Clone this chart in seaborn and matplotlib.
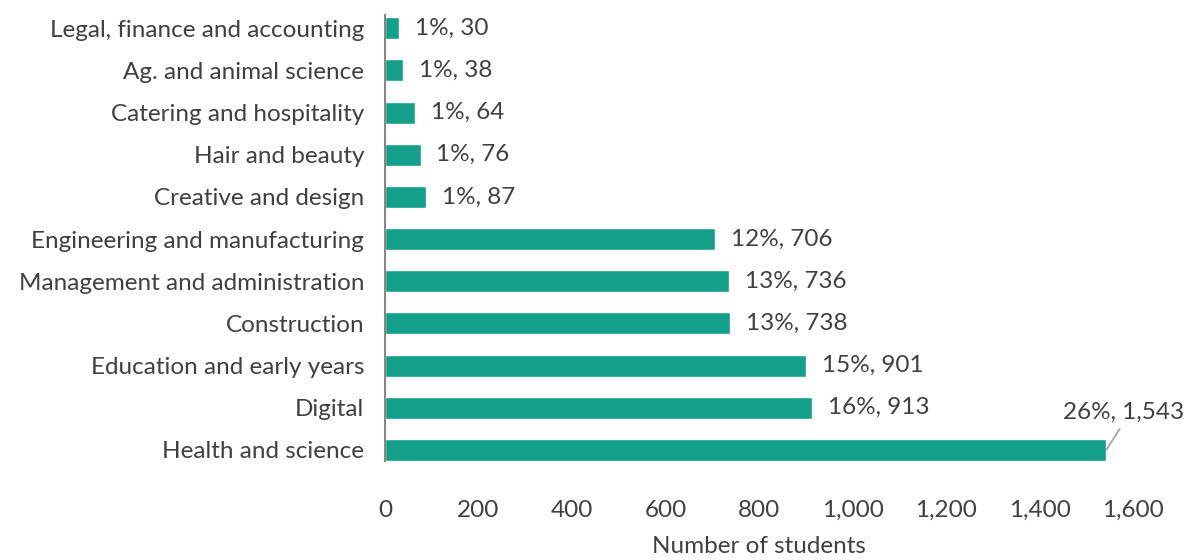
import matplotlib
matplotlib.use("Agg")
import matplotlib.pyplot as plt
import seaborn as sns
import pandas as pd

categories = [
    "Legal, finance and accounting",
    "Ag. and animal science",
    "Catering and hospitality",
    "Hair and beauty",
    "Creative and design",
    "Engineering and manufacturing",
    "Management and administration",
    "Construction",
    "Education and early years",
    "Digital",
    "Health and science",
]
students = [30, 38, 64, 76, 87, 706, 736, 738, 901, 913, 1543]
shares = [1, 1, 1, 1, 1, 12, 13, 13, 15, 16, 26]
xticks = [0, 200, 400, 600, 800, 1000, 1200, 1400, 1600]

df = pd.DataFrame({"route": categories, "students": students, "share": shares})

sns.set_theme(style="white")
plt.rcParams["font.family"] = ["Lato", "DejaVu Sans"]
text_color = "#404040"
bar_color = "#13A08A"
fs = 17.5

fig = plt.figure(figsize=(11.92, 5.6), dpi=100)
ax = fig.add_axes([0.323, 0.177, 0.6275, 0.796])

sns.barplot(data=df, x="students", y="route", color=bar_color, width=0.52,
            saturation=1, ax=ax, orient="h")

ax.set_xlim(0, 1600)
ax.set_ylim(len(categories) - 1 + 0.26, -0.31)
ax.set_xticks(xticks)
ax.set_xticklabels([f"{v:,}" for v in xticks])
ax.tick_params(axis="both", length=0, labelsize=fs, colors=text_color)
ax.tick_params(axis="x", pad=28)
ax.tick_params(axis="y", pad=15)
ax.set_ylabel("")
ax.set_xlabel("Number of students", fontsize=fs, color=text_color, labelpad=11)

for side in ["top", "right", "bottom"]:
    ax.spines[side].set_visible(False)
ax.spines["left"].set_color("#888888")
ax.spines["left"].set_linewidth(1.5)

last = len(categories) - 1
for i, (v, s) in enumerate(zip(students, shares)):
    label = f"{s}%, {v:,}"
    if i == last:
        ax.annotate(label, xy=(v, i), xytext=(v + 36, i - 0.88),
                    textcoords="data", ha="center", va="center", fontsize=fs,
                    color=text_color, annotation_clip=False,
                    arrowprops=dict(arrowstyle="-", color="#a6a6a6", lw=1.3,
                                    relpos=(0.5, 0.0), shrinkA=2, shrinkB=0))
    else:
        ax.text(v + 34, i, label, ha="left", va="center", fontsize=fs,
                color=text_color)

fig.savefig("out.png", dpi=100)
